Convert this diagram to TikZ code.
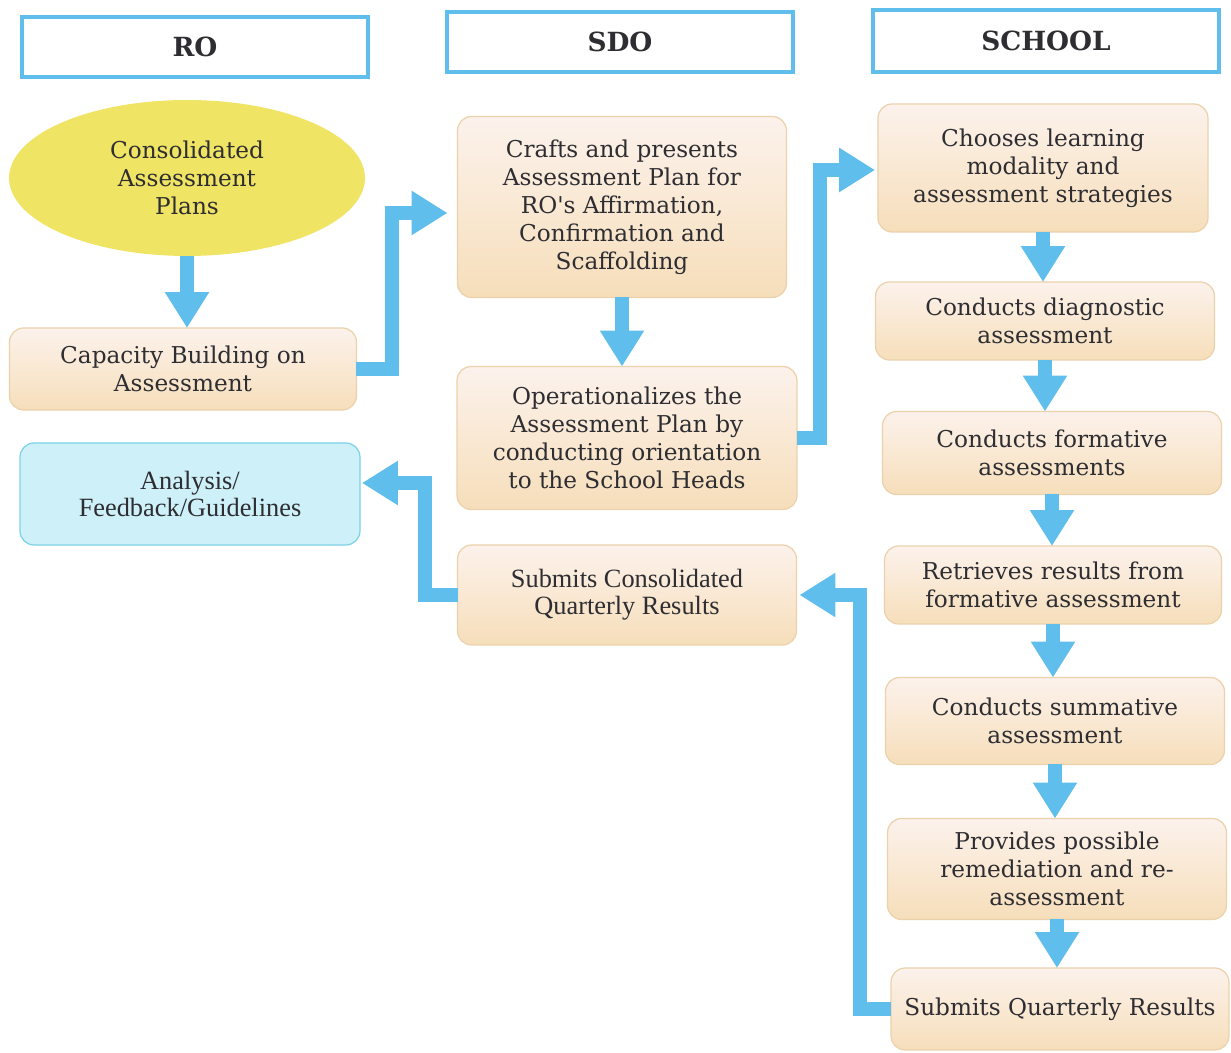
\documentclass[tikz,border=0pt]{standalone}
\usepackage{fontspec}
\setmainfont{DejaVu Serif}[Ligatures=TeXOff]
\newfontfamily\condfont{Liberation Serif}
\usepackage{xcolor}
\usepackage{tikz}
\usetikzlibrary{shapes.geometric, arrows.meta, positioning, calc}
\definecolor{mydark}{RGB}{45,45,50}
\definecolor{myblue}{RGB}{95,190,235}
\definecolor{myyellow}{RGB}{240,228,100}
\definecolor{boxtop}{RGB}{252,242,236}
\definecolor{boxbot}{RGB}{246,222,186}
\definecolor{boxline}{RGB}{236,210,172}
\definecolor{cyanfill}{RGB}{206,240,248}
\definecolor{cyanline}{RGB}{125,210,232}
\tikzset{
  hdr/.style={draw=myblue, line width=2pt, fill=white, minimum width=6.92cm, minimum height=1.2cm,
    font=\fontsize{15}{18}\selectfont\bfseries, text=mydark},
  box/.style={draw=boxline, line width=0.7pt, rounded corners=8pt, top color=boxtop, bottom color=boxbot,
    align=center, text=mydark, font=\fontsize{13.2}{16}\selectfont, inner sep=2pt, outer sep=0pt},
  arrow/.style={-{Triangle[width=0.84cm,length=0.72cm]}, line width=0.28cm, color=myblue}
}

\begin{document}
\begin{tikzpicture}[x=0.02cm, y=-0.02cm]
  \useasboundingbox[fill=white] (0,0) rectangle (1231,1053);
  % ═══════════════════════════════════════════════════════════════════════════════
  % HEADERS
  % ═══════════════════════════════════════════════════════════════════════════════
  \node[hdr] (roHdr) at (195,47) {RO};
  \node[hdr] (sdoHdr) at (620,42) {SDO};
  \node[hdr, minimum height=1.24cm] (schoolHdr) at (1046,41) {SCHOOL};

  % ═══════════════════════════════════════════════════════════════════════════════
  % RO COLUMN
  % ═══════════════════════════════════════════════════════════════════════════════
  \node[ellipse, fill=myyellow, minimum width=7.12cm, minimum height=3.12cm, inner sep=0pt, outer sep=0pt,
        align=center, text=mydark, font=\fontsize{13.2}{16}\selectfont] (plans) at (187,178)
        {Consolidated\\Assessment\\Plans};
  \node[box, minimum width=6.94cm, minimum height=1.64cm] (capacity) at (183,369)
        {Capacity Building on\\Assessment};
  \node[box, draw=cyanline, top color=cyanfill, bottom color=cyanfill, minimum width=6.8cm, minimum height=2.04cm,
        font=\condfont\fontsize{15}{15.5}\selectfont] (analysis) at (190,494)
        {Analysis/\\Feedback/Guidelines};

  % ═══════════════════════════════════════════════════════════════════════════════
  % SDO COLUMN
  % ═══════════════════════════════════════════════════════════════════════════════
  \node[box, minimum width=6.58cm, minimum height=3.62cm] (crafts) at (622,207)
        {Crafts and presents\\Assessment Plan for\\RO's Affirmation,\\Confirmation and\\Scaffolding};
  \node[box, minimum width=6.8cm, minimum height=2.86cm] (operational) at (627,438)
        {Operationalizes the\\Assessment Plan by\\conducting orientation\\to the School Heads};
  \node[box, minimum width=6.78cm, minimum height=2.0cm, font=\condfont\fontsize{15}{15.5}\selectfont]
        (submitsCons) at (627,595) {Submits Consolidated\\Quarterly Results};

  % ═══════════════════════════════════════════════════════════════════════════════
  % SCHOOL COLUMN
  % ═══════════════════════════════════════════════════════════════════════════════
  \node[box, minimum width=6.6cm, minimum height=2.56cm] (chooses) at (1043,168)
        {Chooses learning\\modality and\\assessment strategies};
  \node[box, minimum width=6.78cm, minimum height=1.56cm] (diagnostic) at (1045,321)
        {Conducts diagnostic\\assessment};
  \node[box, minimum width=6.78cm, minimum height=1.66cm] (formative) at (1052,453)
        {Conducts formative\\assessments};
  \node[box, minimum width=6.74cm, minimum height=1.56cm] (retrieves) at (1053,585)
        {Retrieves results from\\formative assessment};
  \node[box, minimum width=6.78cm, minimum height=1.74cm] (summative) at (1055,721)
        {Conducts summative\\assessment};
  \node[box, minimum width=6.78cm, minimum height=2.02cm] (remediation) at (1057,869)
        {Provides possible\\remediation and re-\\assessment};
  \node[box, minimum width=6.76cm, minimum height=1.64cm] (submitsQ) at (1060,1009)
        {Submits Quarterly Results};

  % ═══════════════════════════════════════════════════════════════════════════════
  % STRAIGHT ARROWS
  % ═══════════════════════════════════════════════════════════════════════════════
  \draw[arrow] (plans.south) -- (plans.south |- capacity.north);
  \draw[arrow] (crafts.south) -- (crafts.south |- operational.north);
  \draw[arrow] (chooses.south) -- (chooses.south |- diagnostic.north);
  \draw[arrow] (diagnostic.south) -- (diagnostic.south |- formative.north);
  \draw[arrow] (formative.south) -- (formative.south |- retrieves.north);
  \draw[arrow] (retrieves.south) -- (retrieves.south |- summative.north);
  \draw[arrow] (summative.south) -- (summative.south |- remediation.north);
  \draw[arrow] (remediation.south) -- (remediation.south |- submitsQ.north);

  % ═══════════════════════════════════════════════════════════════════════════════
  % ELBOW ARROWS
  % ═══════════════════════════════════════════════════════════════════════════════
  \draw[arrow, shorten >=0.2cm] (capacity.east) -- ++(36,0) |- ([yshift=-0.12cm]crafts.west);
  \draw[arrow, shorten >=0.06cm] (operational.east) -- ++(23,0) |- ([yshift=-0.04cm]chooses.west);
  \draw[arrow, shorten >=0.06cm] (submitsQ.west) -- ++(-31,0) |- (submitsCons.east);
  \draw[arrow, shorten >=0.04cm] (submitsCons.west) -- ++(-33,0) |- ([yshift=0.22cm]analysis.east);
\end{tikzpicture}
\end{document}
